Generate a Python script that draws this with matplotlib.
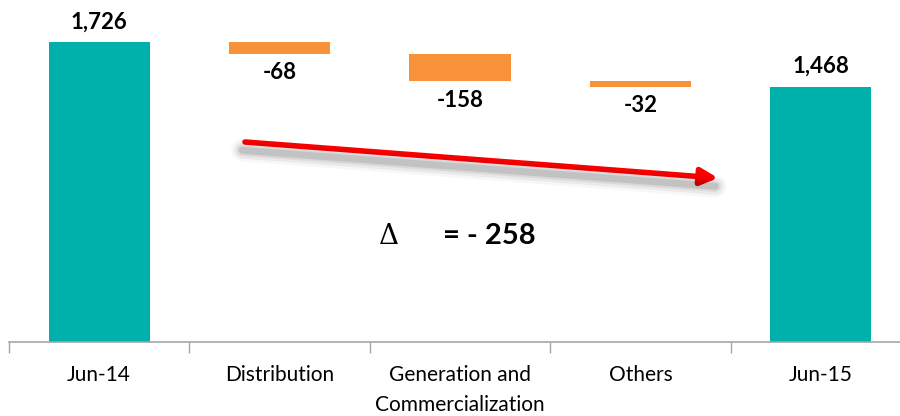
import matplotlib.pyplot as plt

# Waterfall: opening balance, three movements, closing balance
categories = ["Jun-14", "Distribution", "Generation and\nCommercialization", "Others", "Jun-15"]
opening = 1726
changes = [-68, -158, -32]
closing = 1468
total_change = -258

TEAL = "#00B0AA"
ORANGE = "#F79239"
AXIS_GREY = "#A6A6A6"

plt.rcParams["font.family"] = ["Lato", "DejaVu Sans"]

fig = plt.figure(figsize=(9, 4.16), dpi=100)
ax = fig.add_axes([9 / 900, (416 - 341.5) / 416, 902 / 900, 341.5 / 416])

x = list(range(len(categories)))
width = 0.56

# totals
ax.bar(x[0], opening, width=width, color=TEAL)
ax.bar(x[-1], closing, width=width, color=TEAL)
for xi, val in [(x[0], opening), (x[-1], closing)]:
    ax.annotate(f"{val:,}", (xi, val), xytext=(0, 7), textcoords="offset points",
                ha="center", va="bottom", fontsize=16, fontweight="bold")

# floating movement bars
level = opening
for i, d in enumerate(changes):
    xi = x[i + 1]
    ax.bar(xi, -d, bottom=level + d, width=width, color=ORANGE)
    ax.annotate(f"{d}", (xi, level + d), xytext=(0, -6), textcoords="offset points",
                ha="center", va="top", fontsize=16, fontweight="bold")
    level += d

ax.set_xlim(-0.5, 4.5)
ax.set_ylim(0, 1968)

# category boundaries as minor ticks, labels centred
ax.set_xticks(x)
ax.set_xticklabels(categories, fontsize=15, linespacing=1.6, va="top")
ax.set_xticks([i - 0.5 for i in range(len(categories) + 1)], minor=True)
ax.tick_params(axis="x", which="major", length=0, pad=17)
ax.tick_params(axis="x", which="minor", length=8, color=AXIS_GREY, width=1)
ax.set_yticks([])
for side in ["top", "right", "left"]:
    ax.spines[side].set_visible(False)
ax.spines["bottom"].set_color(AXIS_GREY)
ax.spines["bottom"].set_linewidth(1.2)

# trend arrow with soft drop shadow
start = (245 / 900, 1 - 142 / 416)
end = (718 / 900, 1 - 178 / 416)
for lw, a in [(16, 0.03), (12, 0.05), (8, 0.07), (5, 0.10)]:
    fig.add_artist(plt.Line2D([start[0] - 0.003, end[0] - 0.003],
                              [start[1] - 0.02, end[1] - 0.02],
                              color="black", lw=lw, alpha=a, solid_capstyle="round"))
ax.annotate("", xy=end, xycoords="figure fraction", xytext=start, textcoords="figure fraction",
            arrowprops=dict(arrowstyle="-|>,head_length=1.0,head_width=0.5",
                            color="#FF0000", lw=4, shrinkA=0, shrinkB=0))

fig.text(389 / 900, 1 - 236 / 416, "\u0394", fontsize=20, family="DejaVu Serif",
         ha="center", va="center")
fig.text(536 / 900, 1 - 236 / 416, f"= - {abs(total_change)}", fontsize=21,
         fontweight="bold", ha="right", va="center")

fig.savefig("out.png", dpi=100)
